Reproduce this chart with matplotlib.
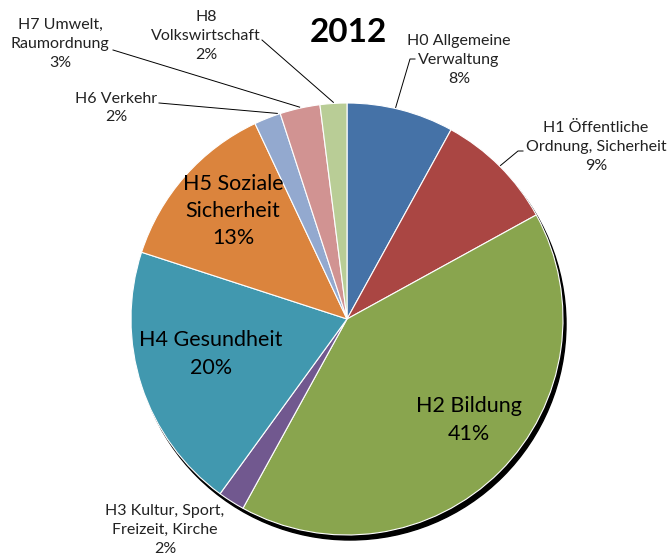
import matplotlib
matplotlib.use("Agg")
import matplotlib.pyplot as plt
import numpy as np
from matplotlib.patches import Circle

plt.rcParams['font.family'] = ['Lato', 'DejaVu Sans']

categories = ["H0 Allgemeine\nVerwaltung", "H1 Öffentliche\nOrdnung, Sicherheit", "H2 Bildung",
              "H3 Kultur, Sport,\nFreizeit, Kirche", "H4 Gesundheit", "H5 Soziale\nSicherheit",
              "H6 Verkehr", "H7 Umwelt,\nRaumordnung", "H8\nVolkswirtschaft"]
values = [8, 9, 41, 2, 20, 13, 2, 3, 2]
colors = ["#4572A7", "#AA4643", "#89A54E", "#71588F", "#4198AF", "#DB843D",
          "#93A9CF", "#D19392", "#B9CD96"]
title = "2012"

W, H = 671, 557
cx, cy, R = 347, 319, 216

fig = plt.figure(figsize=(W/100, H/100), dpi=100)
ax = fig.add_axes([0, 0, 1, 1])

def px(x, y):
    return ((x-cx)/R, (cy-y)/R)

# shadow
ax.add_patch(Circle((3/R, -5/R), 1.0, color='black', zorder=0))
wedges, _ = ax.pie(values, colors=colors, startangle=90, counterclock=False,
                   radius=1.0, wedgeprops=dict(edgecolor='white', linewidth=0.8))

ax.set_xlim(-cx/R, (W-cx)/R)
ax.set_ylim(-(H-cy)/R, cy/R)
ax.set_aspect('equal')
ax.axis('off')

total = sum(values)
cum = np.cumsum([0] + values)

def edge(i, frac=0.5, r=1.005):
    a = np.deg2rad(90 - 360*(cum[i] + values[i]*frac)/total)
    return (r*np.cos(a), r*np.sin(a))

# inside labels
inside = {2: (469, 420), 4: (211, 354), 5: (233, 211)}
for i, (x, y) in inside.items():
    ax.text(*px(x, y), f"{categories[i]}\n{values[i]}%", ha='center', va='center',
            fontsize=15.5, linespacing=1.45)

# outside labels: text centre, leader path (pixels), position along wedge
outside = {
    0: ((459, 60), [(415, 59), (410, 59)], 0.45),
    1: ((596, 147), [(523, 151), (518, 151)], 0.5),
    3: ((165, 530), None, 0.5),
    6: ((116, 108), [(159, 103)], 0.9),
    7: ((60, 44), [(113, 50)], 0.5),
    8: ((206, 36), [(262, 40)], 0.5),
}
for i, ((x, y), path, frac) in outside.items():
    ax.text(*px(x, y), f"{categories[i]}\n{values[i]}%", ha='center', va='center',
            fontsize=11.5, linespacing=1.45, color='#222222')
    if path:
        pts = [px(*p) for p in path] + [edge(i, frac)]
        xs, ys = zip(*pts)
        ax.plot(xs, ys, color='black', lw=0.7, zorder=5)

ax.text(*px(348, 33), title, ha='center', va='center', fontsize=24, fontweight='bold')

fig.savefig("out.png", dpi=100)
